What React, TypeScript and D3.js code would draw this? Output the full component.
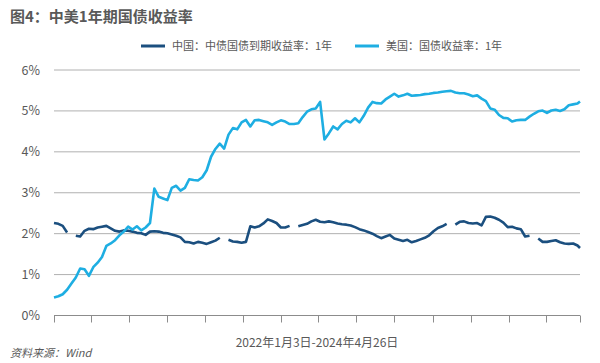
import React from "react";
import * as d3 from "d3";

const title = "图4：中美1年期国债收益率";
const seriesNames = ["中国：中债国债到期收益率：1年", "美国：国债收益率：1年"];
const xLabel = "2022年1月3日-2024年4月26日";
const source = "资料来源：Wind";
const yTicks = [0, 1, 2, 3, 4, 5, 6];
const tickDates = [
  "2022-01-03", "2022-03-03", "2022-05-03", "2022-07-03", "2022-09-03", "2022-11-03",
  "2023-01-03", "2023-03-03", "2023-05-03", "2023-07-03", "2023-09-03", "2023-11-03",
  "2024-01-03", "2024-03-03", "2024-04-26",
];
const startDate = "2022-01-03";
const endDate = "2024-04-26";

// weekly observations (Mondays from 2022-01-03) plus the final day 2024-04-26
const chinaValues: (number | null)[] = [
  2.26, 2.24, 2.19, 2.03, null, 1.95, 1.93, 2.07, 2.12, 2.11,
  2.15, 2.17, 2.19, 2.13, 2.07, 2.05, 2.08, 2.07, 2.05, 2.02,
  2.01, 1.97, 2.05, 2.06, 2.05, 2.02, 2.01, 1.98, 1.95, 1.91,
  1.80, 1.79, 1.76, 1.80, 1.78, 1.75, 1.79, 1.83, 1.90, null,
  1.85, 1.81, 1.80, 1.78, 1.80, 2.18, 2.15, 2.18, 2.25, 2.35,
  2.31, 2.26, 2.15, 2.15, 2.19, null, 2.18, 2.21, 2.24, 2.30,
  2.34, 2.29, 2.28, 2.30, 2.28, 2.25, 2.23, 2.22, 2.20, 2.16,
  2.11, 2.08, 2.04, 2.00, 1.94, 1.89, 1.93, 1.97, 1.88, 1.85,
  1.82, 1.85, 1.79, 1.82, 1.86, 1.90, 1.96, 2.06, 2.14, 2.18,
  2.24, null, 2.22, 2.29, 2.30, 2.26, 2.25, 2.26, 2.20, 2.41,
  2.42, 2.39, 2.34, 2.27, 2.16, 2.17, 2.13, 2.11, 1.93, 1.95,
  null, 1.88, 1.80, 1.80, 1.82, 1.84, 1.79, 1.76, 1.75, 1.76,
  1.71, 1.65,
];
const usValues: (number | null)[] = [
  0.44, 0.47, 0.52, 0.63, 0.78, 0.93, 1.15, 1.13, 0.97, 1.18,
  1.29, 1.43, 1.70, 1.76, 1.84, 1.96, 2.05, 2.17, 2.10, 2.18,
  2.08, 2.15, 2.26, 3.10, 2.90, 2.86, 2.82, 3.12, 3.17, 3.05,
  3.12, 3.33, 3.31, 3.30, 3.38, 3.55, 3.88, 4.07, 4.20, 4.08,
  4.42, 4.58, 4.55, 4.72, 4.78, 4.62, 4.77, 4.78, 4.75, 4.72,
  4.66, 4.72, 4.77, 4.74, 4.68, 4.68, 4.70, 4.85, 4.98, 5.04,
  5.06, 5.22, 4.30, 4.45, 4.62, 4.55, 4.68, 4.76, 4.72, 4.82,
  4.72, 4.88, 5.08, 5.22, 5.19, 5.18, 5.28, 5.35, 5.42, 5.35,
  5.38, 5.42, 5.37, 5.38, 5.39, 5.41, 5.42, 5.44, 5.45, 5.47,
  5.48, 5.49, 5.45, 5.43, 5.43, 5.40, 5.36, 5.38, 5.30, 5.24,
  5.06, 5.03, 4.90, 4.83, 4.82, 4.74, 4.77, 4.78, 4.78, 4.86,
  4.93, 4.99, 5.01, 4.95, 5.01, 5.03, 5.00, 5.04, 5.14, 5.16,
  5.18, 5.23,
];
const colors = ["#1b4f7f", "#1eaee2"];

const W = 600, H = 363;
const FONT = "'Noto Sans CJK SC', 'Liberation Sans', sans-serif";
const TXT = "#595959";

export default function App() {
  const parse = d3.timeParse("%Y-%m-%d");
  const start = parse(startDate)!;
  const end = parse(endDate)!;
  const dates = d3.timeMonday.range(start, d3.timeDay.offset(end, 1));
  dates.push(end);

  const x = d3.scaleTime().domain([start, end]).range([54, 580]);
  const y = d3.scaleLinear().domain([0, 6]).range([315.5, 70]);

  const line = d3
    .line<[Date, number | null]>()
    .defined((d) => d[1] !== null)
    .x((d) => x(d[0]))
    .y((d) => y(d[1] as number));

  const series = [chinaValues, usValues].map((vals) =>
    vals.map((v, i) => [dates[i], v] as [Date, number | null]).filter((d) => d[0])
  );

  return (
    <svg
      width={W}
      height={H}
      style={{ position: "absolute", left: 0, top: 0, background: "#fff" }}
      fontFamily={FONT}
    >
      <text x={10} y={22} fontSize={15} fontWeight="bold" fill={TXT}>
        {title}
      </text>

      {/* legend */}
      <line x1={141} x2={165} y1={46} y2={46} stroke={colors[0]} strokeWidth={3} />
      <text x={172} y={50} fontSize={11} fill={TXT}>
        {seriesNames[0]}
      </text>
      <line x1={355} x2={379} y1={46} y2={46} stroke={colors[1]} strokeWidth={3} />
      <text x={386} y={50} fontSize={11} fill={TXT}>
        {seriesNames[1]}
      </text>

      {/* grid */}
      {yTicks.map((t) => (
        <g key={t}>
          {t > 0 && (
            <line x1={54} x2={580} y1={y(t)} y2={y(t)} stroke="#b0b0b0" strokeWidth={1} />
          )}
          <text x={40} y={y(t) + 4.5} fontSize={12.5} fill={TXT} textAnchor="end">
            {t}%
          </text>
        </g>
      ))}

      {/* x axis */}
      <line x1={54} x2={580} y1={y(0)} y2={y(0)} stroke="#8c8c8c" strokeWidth={1} />
      {tickDates.map((d) => {
        const xx = Math.round(x(parse(d)!)) + 0.5;
        return <line key={d} x1={xx} x2={xx} y1={y(0)} y2={y(0) + 7} stroke="#8c8c8c" strokeWidth={1} />;
      })}

      {/* series */}
      {series.map((s, i) => (
        <path
          key={i}
          d={line(s) || ""}
          fill="none"
          stroke={colors[i]}
          strokeWidth={2.6}
          strokeLinejoin="round"
        />
      ))}

      <text x={317} y={347} fontSize={12} fill={TXT} textAnchor="middle">
        {xLabel}
      </text>
      <text x={10} y={357} fontSize={11} fill={TXT} fontStyle="italic">
        {source}
      </text>
    </svg>
  );
}
